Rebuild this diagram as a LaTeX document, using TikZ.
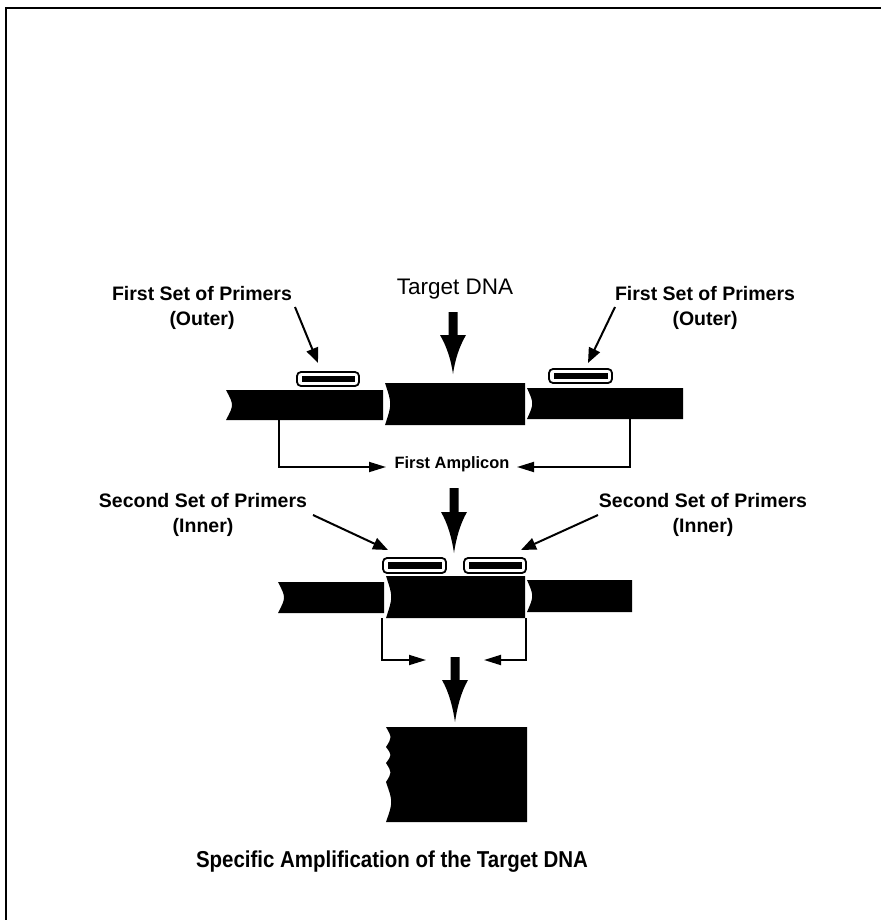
\documentclass[tikz,border=0pt]{standalone}
\usepackage{fontspec}
\usepackage{graphicx}
\setmainfont{Liberation Sans}
\usetikzlibrary{arrows.meta}
\newcommand\dnaseg[5]{%
  \fill (#1,#2) -- (#3,#2) -- (#3,#4) -- (#1,#4) .. controls ({#1+2*#5},{(#2+#4)/2}) .. (#1,#2) -- cycle;}
\newcommand\bigdown[4]{%
  \fill ({#1-4.5},#2) -- ({#1+4.5},#2) -- ({#1+4.5},#3) -- ({#1+13},#3)
    .. controls ({#1+6},{#3+12}) and ({#1+2},{#4-14}) .. (#1,#4)
    .. controls ({#1-2},{#4-14}) and ({#1-6},{#3+12}) .. ({#1-13},#3)
    -- ({#1-4.5},#3) -- cycle;}
\newcommand\primer[4]{%
  \draw[line width=1.8pt,rounded corners=4pt,fill=white] (#1,#2) rectangle (#3,#4);
  \fill ({#1+4.5},{#2+3.8}) rectangle ({#3-4.5},{#4-3.8});}
\tikzset{
  lbl/.style={font=\fontsize{19.5}{24.5}\selectfont\bfseries, align=center, inner sep=0pt},
  diag/.style={line width=2pt, -{Triangle[length=15pt,width=12pt]}},
  brk/.style={line width=1.8pt, -{Triangle[length=17pt,width=10pt]}},
}
\begin{document}
\begin{tikzpicture}[x=1pt,y=-1pt]
\useasboundingbox (0,0) rectangle (881,920);
% frame
\draw[line width=2.5pt] (6,920) -- (6,8) -- (881,8);

% labels
\node[lbl] (fsl) at (202,308) {First Set of Primers\\(Outer)};
\node[lbl] (fsr) at (705,308) {First Set of Primers\\(Outer)};
\node[inner sep=0pt, font=\fontsize{22.5}{26}\selectfont] (tdna) at (455,289) {Target DNA};
\node[inner sep=0pt, font=\fontsize{16.4}{20}\selectfont\bfseries] (amp) at (452,464) {First Amplicon};
\node[lbl] (ssl) at (203,515) {Second Set of Primers\\(Inner)};
\node[lbl] (ssr) at (703,515) {Second Set of Primers\\(Inner)};
\node[inner sep=0pt, font=\fontsize{23}{26}\selectfont\bfseries] (title) at (392,862)
  {\scalebox{0.89}[1]{Specific Amplification of the Target DNA}};

% row 1 DNA
\dnaseg{226}{390}{383}{420}{4}
\dnaseg{385}{383}{525}{425}{3.5}
\dnaseg{527}{388}{683}{419}{3.5}
\primer{297}{372}{359}{386}
\primer{549}{369}{612}{383}

% row 2 DNA
\dnaseg{278}{582}{384}{613}{4}
\dnaseg{386}{576}{525}{618}{3.5}
\dnaseg{527}{580}{632}{612}{3.5}
\primer{383}{558}{446}{573}
\primer{464}{558}{526}{573}

% final product
\fill (527,727) -- (527,822) -- (386,822)
  .. controls (393,802) .. (386,782)
  .. controls (392,772.5) .. (386,763)
  .. controls (392,755) .. (386,747)
  .. controls (392,737.5) .. (386,727) -- cycle;

% big arrows
\bigdown{453}{312}{335}{374}
\bigdown{454}{488}{512}{553}
\bigdown{455}{657}{680}{722}

% diagonal primer arrows
\coordinate (a1s) at (295,307); \coordinate (a1t) at (318,363);
\coordinate (a2s) at (615,307); \coordinate (a2t) at (588,363);
\coordinate (a3s) at (313,515); \coordinate (a3t) at (388,550);
\coordinate (a4s) at (598,515); \coordinate (a4t) at (521,550);
\draw[diag] (a1s) -- (a1t);
\draw[diag] (a2s) -- (a2t);
\draw[diag] (a3s) -- (a3t);
\draw[diag] (a4s) -- (a4t);

% amplicon brackets
\coordinate (b1s) at (279,420); \coordinate (b1t) at (386,467);
\coordinate (b2s) at (630,419); \coordinate (b2t) at (517,467);
\draw[brk] (b1s) |- (b1t);
\draw[brk] (b2s) |- (b2t);
\coordinate (c1s) at (382,618); \coordinate (c1t) at (426,660);
\coordinate (c2s) at (526,618); \coordinate (c2t) at (484,660);
\draw[brk] (c1s) |- (c1t);
\draw[brk] (c2s) |- (c2t);
\end{tikzpicture}
\end{document}
